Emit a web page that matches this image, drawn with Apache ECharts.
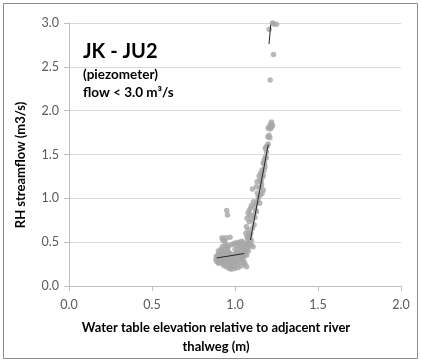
<!DOCTYPE html>
<html>
<head>
<meta charset="utf-8">
<script src="https://cdn.jsdelivr.net/npm/echarts@6/dist/echarts.min.js"></script>
<style>
html,body{margin:0;padding:0;background:#fff;}
#chart{width:421px;height:362px;}
</style>
</head>
<body>
<div id="chart"></div>
<script>
// Axis ticks
var xTicks = [0.0, 0.5, 1.0, 1.5, 2.0];
var yTicks = [0.0, 0.5, 1.0, 1.5, 2.0, 2.5, 3.0];

// Observed points: [water table elevation (m), streamflow (m3/s)]
var pointsLow = [
  [0.885,0.30],[0.89,0.28],[0.888,0.34],[0.895,0.33],[0.90,0.36],[0.90,0.26],[0.905,0.30],[0.91,0.38],
  [0.91,0.27],[0.915,0.34],[0.92,0.40],[0.92,0.30],[0.925,0.25],[0.925,0.45],[0.93,0.35],[0.93,0.28],
  [0.935,0.42],[0.935,0.23],[0.94,0.32],[0.94,0.48],[0.945,0.38],[0.945,0.27],[0.95,0.22],[0.95,0.35],
  [0.955,0.43],[0.955,0.30],[0.96,0.25],[0.96,0.39],[0.965,0.20],[0.965,0.33],[0.97,0.28],[0.97,0.37],
  [0.975,0.36],[0.975,0.23],[0.98,0.31],[0.985,0.26],[0.985,0.35],[0.99,0.48],[0.99,0.34],[0.995,0.22],
  [1.00,0.30],[1.00,0.42],[1.005,0.37],[1.005,0.27],[1.01,0.46],[1.01,0.33],[1.015,0.24],[1.015,0.40],
  [1.02,0.50],[1.02,0.30],[1.025,0.36],[1.025,0.44],[1.03,0.27],[1.03,0.48],[1.035,0.33],[1.035,0.40],
  [1.04,0.23],[1.04,0.45],[1.045,0.37],[1.045,0.30],[1.05,0.42],[1.05,0.50],[1.055,0.35],[1.055,0.27],
  [1.06,0.45],[1.06,0.40],[1.065,0.38],[1.065,0.48],[1.07,0.42],[1.07,0.35],[1.075,0.46],[1.075,0.55],
  [1.08,0.40],[1.08,0.50],[1.085,0.45],[1.085,0.60],[1.09,0.55],[1.09,0.48],[1.07,0.22],[1.06,0.25],
  [0.96,0.45],[0.95,0.46],[0.94,0.52],[0.945,0.55],[0.925,0.525],[0.922,0.55],[0.97,0.555],
  [0.95,0.86],[0.955,0.81],[1.00,0.20],[0.98,0.19],[0.97,0.21],[1.02,0.21],[0.90,0.40],[0.915,0.42],
  [0.93,0.38],[0.99,0.27],[1.01,0.38],[1.03,0.36],[1.05,0.32],[1.04,0.51],[1.00,0.49],[0.975,0.47]
];
var pointsRise = [
  [1.182,1.570],[1.190,1.532],[1.184,1.475],[1.176,1.437],[1.170,1.399],[1.180,1.361],[1.163,1.323],
  [1.155,1.285],[1.170,1.266],[1.145,1.255],[1.149,1.209],[1.133,1.190],[1.159,1.190],[1.129,1.133],
  [1.170,1.095],[1.163,1.057],[1.153,1.038],[1.105,1.106],[1.139,0.981],[1.129,0.943],[1.149,0.943],
  [1.119,0.905],[1.129,0.848],[1.093,0.886],[1.085,0.859],[1.079,0.829],[1.109,0.810],[1.103,0.753],
  [1.073,0.772],[1.085,0.734],[1.069,0.677],[1.079,0.639],[1.065,0.601],[1.073,0.563],[1.085,0.525],
  [1.099,0.468],[1.109,0.449],[1.19,1.59],[1.20,1.62],[1.195,1.60],[1.115,0.70],[1.12,0.78],
  [1.125,0.86],[1.14,1.02],[1.16,1.15],[1.175,1.32],[1.188,1.46],[1.098,0.52],[1.095,0.60],[1.105,0.66],
  [1.15,1.12],[1.165,1.24],[1.178,1.40],[1.135,1.06],[1.112,0.96],[1.09,0.80],[1.10,0.92]
];
var pointsHigh = [
  [1.226,3.00],[1.234,2.99],[1.250,2.985],[1.206,2.93],[1.232,2.64],[1.212,2.35],
  [1.220,1.87],[1.215,1.85],[1.226,1.83],[1.206,1.82],[1.200,1.80],[1.212,1.79],[1.220,1.81],
  [1.198,1.70],[1.210,1.69],[1.205,1.72]
];

// Fitted segments
var trendLow = [[0.89,0.32],[1.055,0.37]];
var trendMid = [[1.093,0.525],[1.200,1.61]];
var trendHigh = [[1.205,2.76],[1.215,2.98]];

var FONT = 'Lato';
var chart = echarts.init(document.getElementById('chart'), null, {renderer:'canvas'});
var pointStyle = {color:'#a6a6a6'};
function lineSeries(d){
  return {type:'line', data:d, symbol:'none', silent:true, z:5,
    lineStyle:{color:'#262626', width:1}};
}
chart.setOption({
  animation:false,
  backgroundColor:'#ffffff',
  grid:{left:69, right:20, top:23, bottom:76},
  xAxis:{
    type:'value', min:xTicks[0], max:xTicks[xTicks.length-1], interval:0.5,
    axisLine:{show:true, lineStyle:{color:'#bfbfbf'}},
    axisTick:{show:true, length:5, lineStyle:{color:'#bfbfbf'}},
    splitLine:{show:false},
    axisLabel:{color:'#595959', fontSize:12.5, fontFamily:FONT, margin:12,
      formatter:function(v){return v.toFixed(1);}}
  },
  yAxis:{
    type:'value', min:yTicks[0], max:yTicks[yTicks.length-1], interval:0.5,
    axisLine:{show:true, lineStyle:{color:'#bfbfbf'}},
    axisTick:{show:true, length:5, lineStyle:{color:'#bfbfbf'}},
    splitLine:{show:true, lineStyle:{color:'#d9d9d9'}},
    axisLabel:{color:'#595959', fontSize:12.5, fontFamily:FONT, margin:10,
      formatter:function(v){return v.toFixed(1);}}
  },
  series:[
    {type:'scatter', data:pointsLow, symbolSize:5.5, itemStyle:pointStyle, z:3},
    {type:'scatter', data:pointsRise, symbolSize:5.5, itemStyle:pointStyle, z:3},
    {type:'scatter', data:pointsHigh, symbolSize:5.5, itemStyle:pointStyle, z:3},
    lineSeries(trendLow), lineSeries(trendMid), lineSeries(trendHigh)
  ],
  graphic:[
    {type:'rect', shape:{x:3.5, y:3.5, width:414, height:355}, silent:true,
      style:{fill:'none', stroke:'#8c8c8c', lineWidth:1}},
    {type:'text', left:83, top:42, style:{text:'JK - JU2', font:'bold 20px Lato', fill:'#000'}},
    {type:'text', left:83, top:68, style:{text:'(piezometer)', font:'bold 13.5px Lato', fill:'#000'}},
    {type:'text', left:83, top:86, style:{text:'flow < 3.0 m³/s', font:'bold 13.5px Lato', fill:'#000'}},
    {type:'text', x:216, y:328, style:{text:'Water table elevation relative to adjacent river',
      font:'bold 13px Lato', fill:'#000', textAlign:'center', textVerticalAlign:'middle'}},
    {type:'text', x:216, y:347, style:{text:'thalweg (m)',
      font:'bold 13px Lato', fill:'#000', textAlign:'center', textVerticalAlign:'middle'}},
    {type:'text', x:21, y:165, rotation:Math.PI/2, style:{text:'RH streamflow (m3/s)',
      font:'bold 13px Lato', fill:'#000', textAlign:'center', textVerticalAlign:'middle'}}
  ]
});
</script>
</body>
</html>
